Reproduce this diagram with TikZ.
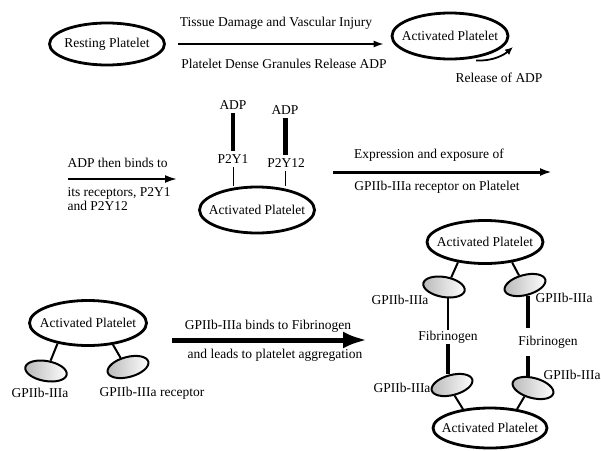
\documentclass[tikz,border=0pt]{standalone}
\usepackage{fontspec}
\setmainfont{Liberation Serif}
\usepackage{tikz}
\usetikzlibrary{arrows.meta, shapes}

\newcommand{\plname}[1]{\makebox[0pt]{#1}}

\begin{document}
\begin{tikzpicture}[x=1pt, y=-1pt, font=\fontsize{13.5}{14.5}\selectfont,
	platelet/.style={ellipse, draw, line width=2.8pt, fill=white, inner sep=0pt, minimum width=115pt, minimum height=44pt},
	receptor/.style={ellipse, draw, line width=2pt, left color=gray!55, right color=white, inner sep=0pt, minimum width=42pt, minimum height=20pt},
	link/.style={line width=2pt},
	bar/.style={line width=4.5pt},
	flow/.style={-{Latex[length=12pt, width=8pt]}},
	fib/.style={inner xsep=1pt}]
	\useasboundingbox (0,0) rectangle (601,450);

	% row 1
	\node[platelet, minimum height=42pt]						(rest) at (107,44) {\plname{Resting Platelet}};
	\node[platelet, minimum width=116pt, minimum height=46pt]	(act1) at (450,36) {\plname{Activated Platelet}};
	\node							(tissue) at (276,23) {Tissue Damage and Vascular Injury};
	\node							(dense) at (284,64) {Platelet Dense Granules Release ADP};
	\node							(reladp) at (499,78) {Release of ADP};
	\coordinate						(reltip) at (513,47);

	\draw[-{Latex[length=10pt, width=7pt]}, line width=1.5pt, shorten <=12pt, shorten >=7pt] (rest.east) -- (rest.east -| act1.west);
	\draw[-{Latex[length=8pt, width=7pt]}, line width=1.8pt] ([yshift=-2.5pt]act1.-40) .. controls +(18,1) and +(-8,7) .. (reltip);

	% row 2
	\node							(adp1) at (233,105) {ADP};
	\node							(adp2) at (285,110) {ADP};
	\node							(p2y1) at (233,159) {P2Y1};
	\node							(p2y12) at (286,163) {P2Y12};
	\node[platelet, minimum height=46pt]						(act2) at (257,210) {\plname{Activated Platelet}};
	\node[anchor=west]				(binds) at (64,163) {ADP then binds to};
	\node[anchor=north west, align=left]	(recp) at (64,184) {its receptors, P2Y1\\and P2Y12};
	\node							(expr) at (429,155) {Expression and exposure of};
	\node							(gprec) at (437,187) {GPIIb-IIIa receptor on Platelet};
	\coordinate						(b1) at (68,179);
	\coordinate						(b2) at (177,179);
	\coordinate						(e1) at (333,172);
	\coordinate						(e2) at (552,172);

	\draw[bar, line width=4pt] (adp1) -- (p2y1);
	\draw[bar, line width=5pt] (adp2) -- (adp2 |- p2y12.north);
	\draw[line width=1pt] (p2y1) -- (p2y1 |- act2.north);
	\draw[line width=1pt] (adp2 |- p2y12.south) -- (adp2 |- act2.north);
	\draw[flow, line width=2pt] (b1) -- (b2);
	\draw[flow, line width=3pt] (e1) -- (e2);

	% row 3, left
	\node[platelet, minimum width=117pt, minimum height=45pt]	(apL) at (88,323) {\plname{Activated Platelet}};
	\node[receptor, rotate=-10]		(gLL) at (46,371) {};
	\node[receptor, rotate=15]		(gLR) at (128,367) {};
	\node							(lLL) at (40,393) {GPIIb-IIIa};
	\node							(lLR) at (152,393) {GPIIb-IIIa receptor};
	\node							(aggr1) at (268,326) {GPIIb-IIIa binds to Fibrinogen};
	\node							(aggr2) at (275,355) {and leads to platelet aggregation};
	\coordinate						(f1) at (172,340);
	\coordinate						(f2) at (367,340);

	\path[link]	(apL.-146) edge (gLL.76)
				(apL.-41) edge (gLR.114);
	\draw[-{Latex[length=24pt, width=17pt]}, line width=5pt] (f1) -- (f2);

	% row 3, right
	\node[platelet, minimum width=116pt, minimum height=43pt]	(apT) at (485,242) {\plname{Activated Platelet}};
	\node[platelet, minimum width=114pt, minimum height=40pt]	(apB) at (490,428) {\plname{Activated Platelet}};
	\node[receptor, rotate=-10]		(gTL) at (444,287) {};
	\node[receptor, rotate=15]		(gTR) at (525,285) {};
	\node[receptor, rotate=15]		(gBL) at (452,385) {};
	\node[receptor, rotate=-15]		(gBR) at (533,388) {};
	\node							(lTL) at (400,300) {GPIIb-IIIa};
	\node							(lTR) at (564,298) {GPIIb-IIIa};
	\node							(lBL) at (402,388) {GPIIb-IIIa};
	\node							(lBR) at (572,375) {GPIIb-IIIa};
	\node[fib, inner ysep=1pt]		(fibL) at (448,337) {Fibrinogen};
	\node[fib, inner ysep=8pt]		(fibR) at (548,342) {Fibrinogen};

	\path[link]	(apT.-143) edge (gTL.63)
				(apT.-37) edge (gTR.107)
				(gBL.-91) edge (apB.145)
				(gBR.-120) edge (apB.35);
	\draw[line width=2.5pt] (fibL |- gTL.south) -- (fibL.north);
	\draw[line width=4pt] (fibL.south) -- (fibL |- gBL.north);
	\draw[line width=4pt] (gTR.south) -- (gTR.south |- fibR.north);
	\draw[line width=4pt] (gTR.south |- fibR.south) -- (gTR.south |- gBR.north);
\end{tikzpicture}
\end{document}
